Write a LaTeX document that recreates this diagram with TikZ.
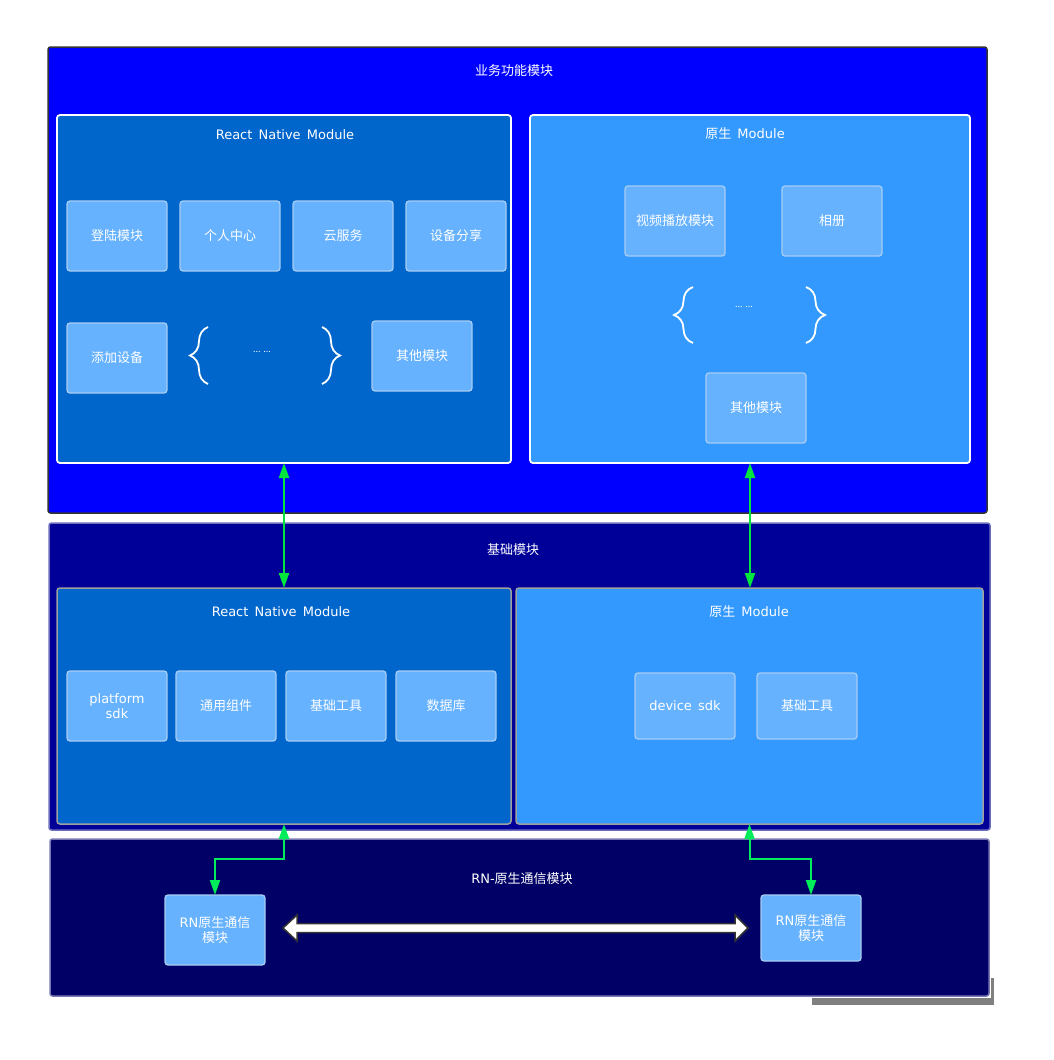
\documentclass[tikz,border=0pt]{standalone}
\usepackage{fontspec}
\setmainfont{Noto Sans CJK SC}
\newfontfamily\lat[WordSpace=1.5]{DejaVu Sans}
\usetikzlibrary{arrows.meta,decorations.pathreplacing,calc}
\definecolor{bizblue}{HTML}{0000FF}
\definecolor{baseblue}{HTML}{000099}
\definecolor{commblue}{HTML}{000066}
\definecolor{rnblue}{HTML}{0066CC}
\definecolor{natblue}{HTML}{3399FF}
\definecolor{modblue}{HTML}{66B2FF}
\definecolor{modedge}{HTML}{A6CCF2}
\definecolor{lnkgreen}{HTML}{00E63C}
\definecolor{lnkmint}{HTML}{00F070}
\newcommand{\LatTxt}[1]{{\lat\fontsize{13}{15.5}\selectfont #1}}
\begin{document}
\begin{tikzpicture}[x=1pt,y={(0pt,-1pt)},
  every node/.style={inner sep=0pt,outer sep=0pt,text=white,font=\fontsize{13}{15.5}\selectfont},
  container/.style={rectangle,rounded corners=2.5pt,line width=1.5pt},
  panel/.style={rectangle,rounded corners=3pt,line width=1.8pt},
  modbox/.style={rectangle,rounded corners=3pt,fill=modblue,draw=modedge,line width=1.3pt,
    minimum width=100pt,minimum height=70pt,align=center},
  ttl/.style={},
  dots/.style={font=\fontsize{9}{10}\selectfont},
  brc/.style={draw=white,line width=1.8pt,decorate},
  link/.style={line width=2pt,{Triangle[length=15pt,width=10pt]}-{Triangle[length=15pt,width=10pt]}}
]
\useasboundingbox[fill=white] (0,0) rectangle (1054,1060);

% shadow fragment
\fill[gray] (812,998) rectangle (994,1005);
\fill[gray] (990.5,978) rectangle (994,1005);

% ===== containers =====
\node[container,fill=bizblue,draw=black!80,minimum width=939pt,minimum height=466pt] (biz) at (517.5,280) {};
\node[container,fill=baseblue,draw={rgb,255:red,110;green,110;blue,190},minimum width=941pt,minimum height=307pt] (base) at (519.5,676.5) {};
\node[container,fill=commblue,draw={rgb,255:red,120;green,120;blue,180},minimum width=939pt,minimum height=157pt] (comm) at (519.5,917.5) {};

\node[ttl] (tbiz) at (514,71) {业务功能模块};
\node[ttl] (tbase) at (513,550) {基础模块};
\node[ttl] (tcomm) at (522,879) {\LatTxt{RN-}原生通信模块};

% ===== business layer =====
\node[panel,fill=rnblue,draw=white,minimum width=454pt,minimum height=348pt] (rnTop) at (284,289) {};
\node[panel,fill=natblue,draw=white,minimum width=440pt,minimum height=348pt] (natTop) at (750,289) {};
\node[ttl] (trnTop) at (285,135) {\LatTxt{React Native Module}};
\node[ttl] (tnatTop) at (745,134) {原生\LatTxt{ Module}};

\node[modbox] (login) at (117,236) {登陆模块};
\node[modbox] (person) at (230,236) {个人中心};
\node[modbox] (cloud) at (343,236) {云服务};
\node[modbox] (share) at (456,236) {设备分享};
\node[modbox] (adddev) at (117,358) {添加设备};
\node[modbox] (otherL) at (422,356) {其他模块};
\node[dots] (dotsL) at (262,352) {... ...};
\draw[brc,decoration={brace,amplitude=18pt}] (208,384) -- (208,327);
\draw[brc,decoration={brace,amplitude=18pt}] (322,327) -- (322,384);

\node[modbox] (video) at (675,221) {视频播放模块};
\node[modbox] (album) at (832,221) {相册};
\node[modbox] (otherR) at (756,408) {其他模块};
\node[dots] (dotsR) at (744,307) {... ...};
\draw[brc,decoration={brace,amplitude=19pt}] (693,343) -- (693,287);
\draw[brc,decoration={brace,amplitude=19pt}] (806,287) -- (806,343);

% ===== base layer =====
\node[panel,fill=rnblue,draw=gray!75,line width=1.5pt,minimum width=454pt,minimum height=236pt] (rnBase) at (284,706) {};
\node[panel,fill=natblue,draw=gray!75,line width=1.5pt,minimum width=467pt,minimum height=236pt] (natBase) at (749.5,706) {};
\node[ttl] (trnBase) at (281,612) {\LatTxt{React Native Module}};
\node[ttl] (tnatBase) at (749,612) {原生\LatTxt{ Module}};

\node[modbox] (psdk) at (117,706) {\LatTxt{platform}\\\LatTxt{sdk}};
\node[modbox] (comp) at (226,706) {通用组件};
\node[modbox] (toolL) at (336,706) {基础工具};
\node[modbox] (db) at (446,706) {数据库};
\node[modbox,minimum height=66pt] (dsdk) at (685,706) {\LatTxt{device sdk}};
\node[modbox,minimum height=66pt] (toolR) at (807,706) {基础工具};

% ===== comm layer =====
\node[modbox] (commL) at (215,930) {\LatTxt{RN}原生通信\\模块};
\node[modbox,minimum height=66pt] (commR) at (811,928) {\LatTxt{RN}原生通信\\模块};

% ===== connectors =====
\draw[link,draw=lnkgreen] (rnTop.south) -- (rnTop.south |- rnBase.north);
\draw[link,draw=lnkgreen] (natTop.south) -- (natTop.south |- natBase.north);
\draw[link,draw=lnkmint!60!lnkgreen] (rnBase.south) -- ++(0,35) -| (commL.north);
\draw[link,draw=lnkmint!60!lnkgreen] (natBase.south) -- ++(0,35) -| (commR.north);

% white double arrow
\coordinate (tl) at ($(commL.east)+(18,-2)$);
\coordinate (tr) at ($(commR.west)+(-13,0)$);
\draw[fill=white,draw=black!80,line width=1.5pt,line join=miter]
  (tl) -- ($(tl)+(14,-13)$) -- ($(tl)+(14,-4.5)$) -- ($(tr)+(-13,-4.5)$) -- ($(tr)+(-13,-13)$)
  -- (tr) -- ($(tr)+(-13,13)$) -- ($(tr)+(-13,4.5)$) -- ($(tl)+(14,4.5)$) -- ($(tl)+(14,13)$) -- cycle;
\end{tikzpicture}
\end{document}
